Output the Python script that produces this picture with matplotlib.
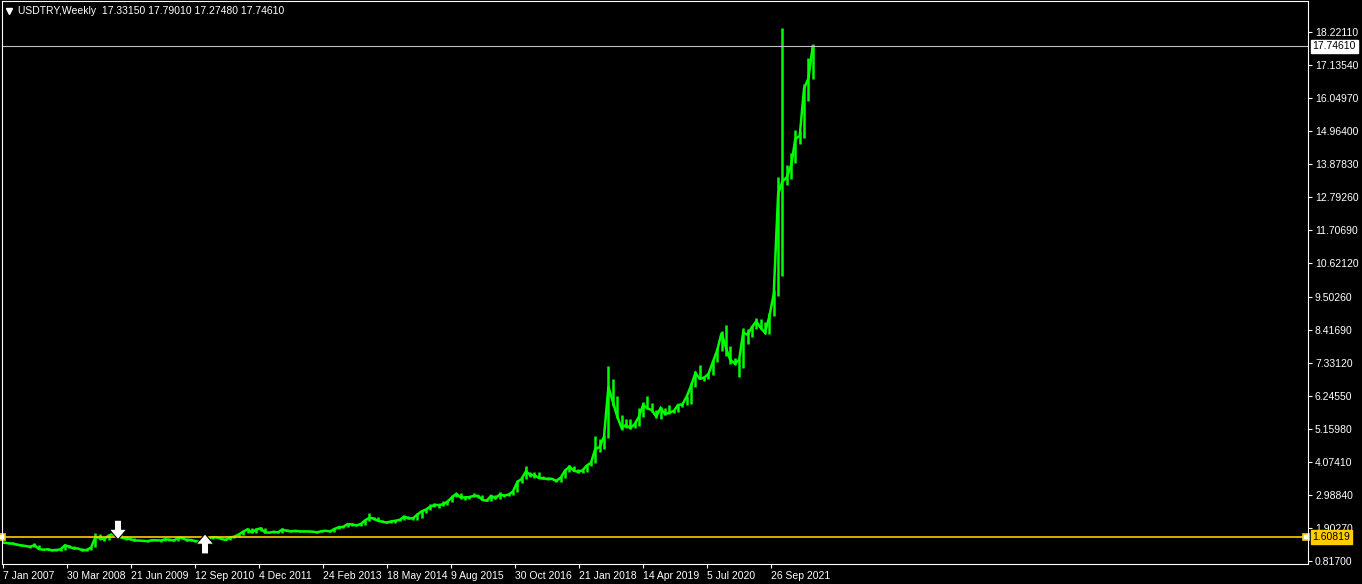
import numpy as np
import pandas as pd
import matplotlib
matplotlib.use('Agg')
import matplotlib.pyplot as plt
import matplotlib.dates as mdates

# USDTRY, valores mensuales (cierre, maximo, minimo)
cierre = [1.42, 1.40, 1.39, 1.35, 1.33, 1.31, 1.28, 1.34, 1.21, 1.19, 1.20, 1.17,
          1.18, 1.20, 1.33, 1.29, 1.23, 1.23, 1.17, 1.18, 1.26, 1.60, 1.58, 1.53,
          1.65, 1.71, 1.68, 1.59, 1.55, 1.54, 1.49, 1.49, 1.48, 1.47, 1.50, 1.50,
          1.49, 1.53, 1.52, 1.49, 1.57, 1.58, 1.50, 1.51, 1.47, 1.45, 1.50, 1.54,
          1.60, 1.59, 1.54, 1.51, 1.59, 1.62, 1.69, 1.78, 1.86, 1.76, 1.85, 1.89,
          1.76, 1.75, 1.78, 1.76, 1.85, 1.81, 1.79, 1.81, 1.79, 1.79, 1.79, 1.78,
          1.76, 1.80, 1.81, 1.79, 1.87, 1.93, 1.94, 2.03, 2.02, 1.99, 2.03, 2.15,
          2.24, 2.21, 2.14, 2.11, 2.08, 2.12, 2.14, 2.17, 2.28, 2.22, 2.22, 2.34,
          2.45, 2.51, 2.60, 2.66, 2.66, 2.68, 2.77, 2.91, 3.03, 2.91, 2.91, 2.92,
          2.96, 2.96, 2.83, 2.80, 2.96, 2.88, 3.00, 2.97, 3.00, 3.10, 3.41, 3.52,
          3.77, 3.64, 3.64, 3.55, 3.53, 3.52, 3.52, 3.45, 3.56, 3.79, 3.92, 3.79,
          3.75, 3.80, 3.95, 4.05, 4.50, 4.57, 4.91, 6.55, 6.05, 5.58, 5.20, 5.29,
          5.19, 5.32, 5.55, 5.95, 5.84, 5.78, 5.57, 5.85, 5.65, 5.70, 5.75, 5.95,
          5.97, 6.24, 6.58, 7.00, 6.81, 6.85, 6.97, 7.37, 7.76, 8.32, 7.83, 7.43,
          7.32, 7.43, 8.33, 8.26, 8.51, 8.70, 8.49, 8.33, 8.87, 9.60, 12.90, 13.30,
          13.45, 13.85, 14.70, 14.80, 16.35, 16.70, 17.7461]
maximo = [1.45, 1.43, 1.44, 1.40, 1.36, 1.35, 1.34, 1.42, 1.35, 1.22, 1.23, 1.21,
          1.21, 1.22, 1.36, 1.33, 1.30, 1.26, 1.24, 1.21, 1.29, 1.75, 1.71, 1.62,
          1.70, 1.74, 1.80, 1.70, 1.64, 1.60, 1.56, 1.52, 1.52, 1.50, 1.53, 1.53,
          1.52, 1.55, 1.55, 1.52, 1.61, 1.62, 1.58, 1.54, 1.52, 1.48, 1.53, 1.57,
          1.62, 1.62, 1.61, 1.56, 1.61, 1.65, 1.72, 1.80, 1.89, 1.90, 1.89, 1.94,
          1.90, 1.78, 1.81, 1.80, 1.89, 1.88, 1.83, 1.83, 1.82, 1.81, 1.81, 1.80,
          1.79, 1.81, 1.83, 1.82, 1.89, 1.97, 1.97, 2.05, 2.06, 2.03, 2.06, 2.19,
          2.39, 2.28, 2.27, 2.15, 2.13, 2.14, 2.15, 2.20, 2.31, 2.31, 2.26, 2.39,
          2.48, 2.52, 2.69, 2.74, 2.70, 2.78, 2.80, 2.99, 3.07, 3.06, 2.97, 2.97,
          3.06, 2.99, 2.98, 2.87, 2.99, 2.98, 3.10, 3.03, 3.05, 3.11, 3.49, 3.59,
          3.94, 3.75, 3.75, 3.75, 3.62, 3.58, 3.56, 3.53, 3.60, 3.85, 3.99, 3.93,
          3.84, 3.81, 3.99, 4.11, 4.92, 4.83, 4.97, 7.24, 6.81, 6.26, 5.62, 5.50,
          5.49, 5.38, 5.85, 6.05, 6.24, 6.02, 5.77, 5.87, 5.84, 5.95, 5.80, 5.98,
          6.03, 6.25, 6.66, 7.07, 7.27, 6.89, 7.00, 7.42, 7.81, 8.39, 8.58, 7.89,
          7.48, 7.47, 8.47, 8.44, 8.56, 8.80, 8.79, 8.67, 8.96, 9.72, 13.45, 18.36,
          13.85, 14.25, 15.00, 14.95, 16.50, 17.37, 17.84]
minimo = [1.40, 1.39, 1.38, 1.34, 1.31, 1.30, 1.26, 1.28, 1.20, 1.17, 1.17, 1.15,
          1.15, 1.16, 1.19, 1.25, 1.22, 1.21, 1.16, 1.15, 1.17, 1.27, 1.52, 1.48,
          1.50, 1.63, 1.65, 1.57, 1.52, 1.52, 1.47, 1.46, 1.46, 1.43, 1.46, 1.47,
          1.44, 1.49, 1.49, 1.47, 1.48, 1.53, 1.49, 1.48, 1.44, 1.42, 1.44, 1.48,
          1.53, 1.57, 1.53, 1.50, 1.50, 1.56, 1.61, 1.67, 1.74, 1.74, 1.75, 1.82,
          1.75, 1.73, 1.75, 1.75, 1.75, 1.79, 1.78, 1.77, 1.78, 1.78, 1.78, 1.76,
          1.75, 1.76, 1.79, 1.78, 1.78, 1.86, 1.91, 1.93, 1.96, 1.96, 1.97, 2.01,
          2.12, 2.16, 2.13, 2.09, 2.07, 2.07, 2.08, 2.13, 2.15, 2.20, 2.18, 2.18,
          2.23, 2.40, 2.51, 2.58, 2.57, 2.64, 2.65, 2.76, 2.91, 2.85, 2.82, 2.86,
          2.91, 2.90, 2.82, 2.79, 2.80, 2.85, 2.87, 2.92, 2.94, 2.99, 3.09, 3.38,
          3.51, 3.57, 3.56, 3.54, 3.51, 3.48, 3.50, 3.43, 3.41, 3.55, 3.76, 3.77,
          3.71, 3.72, 3.76, 3.94, 4.03, 4.41, 4.51, 4.85, 5.92, 5.53, 5.13, 5.20,
          5.17, 5.20, 5.26, 5.55, 5.83, 5.73, 5.53, 5.50, 5.62, 5.65, 5.67, 5.71,
          5.87, 5.95, 5.98, 6.55, 6.79, 6.74, 6.80, 6.95, 7.35, 7.74, 7.56, 7.31,
          7.28, 6.88, 7.18, 7.96, 8.17, 8.44, 8.44, 8.29, 8.29, 8.87, 9.54, 10.20,
          13.20, 13.40, 13.90, 14.55, 14.75, 15.95, 16.68]
meses = pd.date_range('2007-01-01', periods=len(cierre), freq='MS') + pd.Timedelta(days=14)

# etiquetas del eje
y_ticks = [18.22110, 17.13540, 16.04970, 14.96400, 13.87830, 12.79260, 11.70690,
           10.62120, 9.50260, 8.41690, 7.33120, 6.24550, 5.15980, 4.07410,
           2.98840, 1.90270, 0.81700]
x_ticks = ['2007-01-07', '2008-03-30', '2009-06-21', '2010-09-12', '2011-12-04',
           '2013-02-24', '2014-05-18', '2015-08-09', '2016-10-30', '2018-01-21',
           '2019-04-14', '2020-07-05', '2021-09-26']

precio_actual = 17.74610
nivel = 1.60819
titulo = 'USDTRY,Weekly  17.33150 17.79010 17.27480 17.74610'

# flechas de senal
senal_fechas = ['2009-03-22', '2010-11-21']
senal_precios = [1.52, 1.71]
senal_tipo = ['sell', 'buy']

verde = '#00FF00'
amarillo = '#FFCC00'
fuente = ['Liberation Sans', 'DejaVu Sans']

fig = plt.figure(figsize=(13.62, 5.84), dpi=100, facecolor='black')
ax = fig.add_axes([2/1362, 20/584, 1306/1362, 563/584], facecolor='black')

x = mdates.date2num(meses)
ax.vlines(x, minimo, maximo, color=verde, lw=1.8)
ax.plot(x, cierre, color=verde, lw=1.8, solid_joinstyle='miter')

t0 = mdates.date2num(pd.Timestamp('2007-01-07'))
ax.set_xlim(t0 - 7, t0 + 7 * 1305)
ax.set_ylim(0.718, 19.241)

# lineas horizontales
ax.axhline(precio_actual, color='#C0C0C0', lw=0.8)
ax.axhline(nivel, color=amarillo, lw=1.2)
ax.plot([t0 - 4, t0 + 7 * 1303.5], [nivel, nivel], ls='none', marker='s', ms=4.5,
        mfc='white', mec=amarillo, mew=1.2, clip_on=False)

# flechas
for f, p, tipo in zip(senal_fechas, senal_precios, senal_tipo):
    xf = mdates.date2num(pd.Timestamp(f))
    dy = 14 if tipo == 'sell' else -14.5
    ax.annotate('', xy=(xf, p), xytext=(0, dy), textcoords='offset points',
                arrowprops=dict(arrowstyle='simple,head_length=0.5,head_width=0.85,tail_width=0.34',
                                fc='white', ec='black', lw=0.8, mutation_scale=15,
                                shrinkA=0, shrinkB=0))

# ejes
for s in ax.spines.values():
    s.set_color('white')
    s.set_linewidth(0.8)
ax.yaxis.tick_right()
ax.set_yticks(y_ticks)
ax.set_yticklabels(['%.5f' % v for v in y_ticks])
ax.set_xticks(mdates.date2num(pd.to_datetime(x_ticks)))
ax.set_xticklabels([pd.Timestamp(d).strftime('%-d %b %Y') for d in x_ticks], ha='left')
ax.tick_params(axis='both', colors='white', length=3, width=0.8, labelsize=7.5, pad=2)
for lab in ax.get_xticklabels() + ax.get_yticklabels():
    lab.set_family(fuente)
    lab.set_color('white')

# etiquetas de precio en el eje derecho
ax.text(1.0035, precio_actual, '%.5f' % precio_actual, transform=ax.get_yaxis_transform(),
        va='center', ha='left', fontsize=7.5, family=fuente, color='black',
        bbox=dict(boxstyle='square,pad=0.15', fc='white', ec='white'))
ax.text(1.0035, nivel, '%.5f' % nivel, transform=ax.get_yaxis_transform(),
        va='center', ha='left', fontsize=7.5, family=fuente, color='black',
        bbox=dict(boxstyle='square,pad=0.15', fc=amarillo, ec=amarillo))

# titulo arriba a la izquierda
ax.plot([0.0055], [0.983], transform=ax.transAxes, marker='v', ms=4.5, color='white', ls='none')
ax.text(0.0125, 0.983, titulo, transform=ax.transAxes, va='center', ha='left',
        fontsize=7.5, family=fuente, color='white')

fig.savefig('out.png', dpi=100, facecolor='black')
